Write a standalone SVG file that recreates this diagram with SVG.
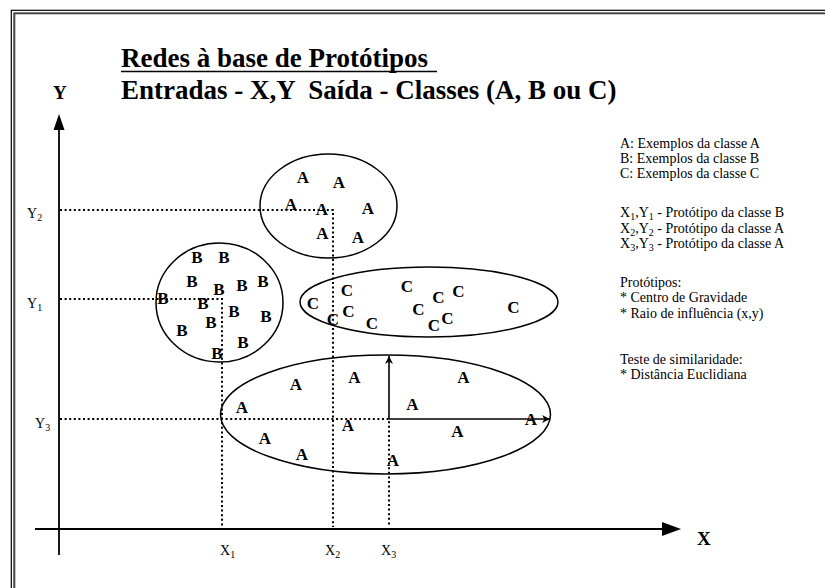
<svg xmlns="http://www.w3.org/2000/svg" width="825" height="588" viewBox="0 0 825 588">
<style>
.ttl{font-family:"Liberation Serif","Times New Roman",serif;font-weight:bold;font-size:27px;fill:#000;white-space:pre}
.ax{font-family:"Liberation Serif","Times New Roman",serif;font-weight:bold;font-size:19px;fill:#000}
.lbl{font-family:"Liberation Serif","Times New Roman",serif;font-size:14px;fill:#000}
.sub{font-size:10px}
.pt{font-family:"Liberation Serif","Times New Roman",serif;font-weight:bold;font-size:17px;fill:#000;text-anchor:middle}
.leg{font-family:"Liberation Serif","Times New Roman",serif;font-size:14px;fill:#000}
.dot{stroke:#000;stroke-width:2;stroke-dasharray:2 2.6;fill:none}
.cl{fill:none;stroke:#000;stroke-width:1.5}
.axis{stroke:#000;stroke-width:1.8;fill:none}
</style>
<defs>
<marker id="sm" viewBox="0 0 10 10" refX="10" refY="5" markerWidth="10" markerHeight="8" markerUnits="userSpaceOnUse" orient="auto">
<path d="M0,0 L10,5 L0,10 L3,5 z" fill="#000"/>
</marker>
</defs>
<rect width="825" height="588" fill="#fff"/>
<!-- frame -->
<rect x="11.3" y="10.3" width="900" height="700" fill="none" stroke="#000" stroke-width="1.2"/>
<rect x="14.3" y="13.3" width="900" height="700" fill="none" stroke="#444" stroke-width="2"/>

<g id="title">
<text class="ttl" x="121" y="67">Redes à base de Protótipos</text>
<line x1="121" y1="71.5" x2="437" y2="71.5" stroke="#000" stroke-width="1.6"/>
<text class="ttl" x="121" y="99" xml:space="preserve">Entradas - X,Y  Saída - Classes (A, B ou C)</text>
</g>

<g id="connectors">
<!-- axes -->
<line class="axis" x1="59" y1="128" x2="59" y2="555"/>
<path d="M59,114 L64.5,130 L53.5,130 z" fill="#000"/>
<line class="axis" x1="35" y1="529" x2="664" y2="529"/>
<path d="M681,529 L662,522 L662,536 z" fill="#000"/>
<!-- dotted guides -->
<polyline class="dot" points="60,210 333,210 333,527"/>
<polyline class="dot" points="60,299 222,299 222,529"/>
<polyline class="dot" points="60,419 389,419 389,527"/>
<!-- radius arrows -->
<line x1="389" y1="419" x2="389" y2="356" stroke="#000" stroke-width="1.6" marker-end="url(#sm)"/>
<line x1="389" y1="419" x2="550" y2="419" stroke="#000" stroke-width="1.6" marker-end="url(#sm)"/>
</g>

<g id="axis-labels">
<text class="ax" x="53" y="99">Y</text>
<text class="ax" x="697" y="545">X</text>
<text class="lbl" x="27" y="218">Y<tspan class="sub" dy="3">2</tspan></text>
<text class="lbl" x="27" y="308">Y<tspan class="sub" dy="3">1</tspan></text>
<text class="lbl" x="35" y="428">Y<tspan class="sub" dy="3">3</tspan></text>
<text class="lbl" x="220" y="555">X<tspan class="sub" dy="3">1</tspan></text>
<text class="lbl" x="325" y="555">X<tspan class="sub" dy="3">2</tspan></text>
<text class="lbl" x="381" y="555">X<tspan class="sub" dy="3">3</tspan></text>
</g>

<g id="cluster-A-top">
<ellipse class="cl" cx="328.5" cy="206" rx="68.5" ry="52"/>
<text class="pt" x="303" y="183">A</text>
<text class="pt" x="339" y="187.5">A</text>
<text class="pt" x="291" y="210">A</text>
<text class="pt" x="322" y="215">A</text>
<text class="pt" x="368" y="213.5">A</text>
<text class="pt" x="322.5" y="239">A</text>
<text class="pt" x="358" y="243">A</text>
</g>

<g id="cluster-B">
<ellipse class="cl" cx="219.5" cy="302.5" rx="63.5" ry="59.5"/>
<text class="pt" x="197" y="263">B</text>
<text class="pt" x="224" y="262.5">B</text>
<text class="pt" x="192" y="287">B</text>
<text class="pt" x="219" y="295">B</text>
<text class="pt" x="242" y="291">B</text>
<text class="pt" x="263" y="287">B</text>
<text class="pt" x="163" y="303.5">B</text>
<text class="pt" x="203" y="309">B</text>
<text class="pt" x="234" y="317">B</text>
<text class="pt" x="266" y="321.5">B</text>
<text class="pt" x="211" y="327.5">B</text>
<text class="pt" x="182" y="336">B</text>
<text class="pt" x="243" y="348">B</text>
<text class="pt" x="217" y="358.5">B</text>
</g>

<g id="cluster-C">
<ellipse class="cl" cx="429" cy="302" rx="129" ry="35"/>
<text class="pt" x="313" y="309">C</text>
<text class="pt" x="347" y="296">C</text>
<text class="pt" x="407" y="291.5">C</text>
<text class="pt" x="348.5" y="316.5">C</text>
<text class="pt" x="333" y="325">C</text>
<text class="pt" x="372" y="328.5">C</text>
<text class="pt" x="418.5" y="315">C</text>
<text class="pt" x="438.5" y="302.5">C</text>
<text class="pt" x="458.5" y="296.5">C</text>
<text class="pt" x="447.5" y="324">C</text>
<text class="pt" x="434" y="331">C</text>
<text class="pt" x="513.5" y="313">C</text>
</g>

<g id="cluster-A-bottom">
<ellipse class="cl" cx="385.5" cy="414.5" rx="165" ry="59.5"/>
<text class="pt" x="296" y="390">A</text>
<text class="pt" x="354.5" y="383">A</text>
<text class="pt" x="463.5" y="383">A</text>
<text class="pt" x="242" y="412.5">A</text>
<text class="pt" x="412.5" y="410">A</text>
<text class="pt" x="348" y="431">A</text>
<text class="pt" x="531" y="425">A</text>
<text class="pt" x="457.5" y="436.5">A</text>
<text class="pt" x="265" y="444">A</text>
<text class="pt" x="302" y="460">A</text>
<text class="pt" x="393" y="466">A</text>
</g>

<g id="legend">
<text class="leg" x="620" y="147.5">A: Exemplos da classe A</text>
<text class="leg" x="620" y="162.5">B: Exemplos da classe B</text>
<text class="leg" x="620" y="178">C: Exemplos da classe C</text>
<text class="leg" x="620" y="217">X<tspan class="sub" dy="3">1</tspan><tspan dy="-3">,Y</tspan><tspan class="sub" dy="3">1</tspan><tspan dy="-3"> - Protótipo da classe B</tspan></text>
<text class="leg" x="620" y="233">X<tspan class="sub" dy="3">2</tspan><tspan dy="-3">,Y</tspan><tspan class="sub" dy="3">2</tspan><tspan dy="-3"> - Protótipo da classe A</tspan></text>
<text class="leg" x="620" y="248">X<tspan class="sub" dy="3">3</tspan><tspan dy="-3">,Y</tspan><tspan class="sub" dy="3">3</tspan><tspan dy="-3"> - Protótipo da classe A</tspan></text>
<text class="leg" x="620" y="286.5">Protótipos:</text>
<text class="leg" x="620" y="302">* Centro de Gravidade</text>
<text class="leg" x="620" y="317.5">* Raio de influência (x,y)</text>
<text class="leg" x="620" y="363.5">Teste de similaridade:</text>
<text class="leg" x="620" y="378.5">* Distância Euclidiana</text>
</g>
</svg>
